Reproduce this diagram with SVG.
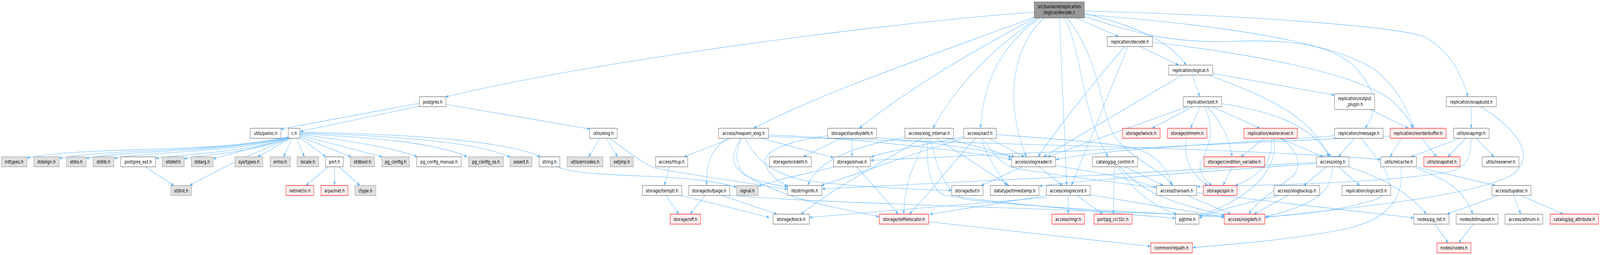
<svg xmlns="http://www.w3.org/2000/svg" width="5467" height="652" viewBox="0 0 5467 652" preserveAspectRatio="none" style="width:100vw;height:100vh;display:block">
<defs>
<marker id="a" markerWidth="10" markerHeight="8" refX="9.5" refY="4" orient="auto" markerUnits="userSpaceOnUse"><path d="M0,0.5 L9.5,4 L0,7.5 z" fill="#63b8ff" stroke="#63b8ff" stroke-width="0.5"/></marker>
</defs>
<style>
.n rect{fill:#ffffff;stroke:#666666;stroke-width:1.2}
.g rect{fill:#e0e0e0;stroke:#999999;stroke-width:1.2}
.r rect{fill:#fff0f0;stroke:#ff0000;stroke-width:1.2}
.root rect{fill:#999999;stroke:#666666;stroke-width:1.2}
text{font-family:"DejaVu Sans","Liberation Sans",sans-serif;font-size:12.7px;fill:#000000;text-anchor:middle}
#edges path{fill:none;stroke:#63b8ff;stroke-width:1.1;marker-end:url(#a)}
</style>
<rect x="0" y="0" width="5467" height="652" fill="#ffffff"/>
<g id="edges">
<path d="M3534,31 C3000,60 2000,160 1522,248"/>
<path d="M3534,44 C3150,150 2800,240 2575,328"/>
<path d="M3537,46 C3300,140 3100,230 2936,328"/>
<path d="M3545,46 C3420,110 3280,200 3188,328"/>
<path d="M3553,46 C3430,110 3360,200 3350,328"/>
<path d="M3567,46 C3460,120 3430,260 3507,401"/>
<path d="M3620,46 L3645,474.3"/>
<path d="M3636,46 C3700,130 3690,280 3786,401"/>
<path d="M3645,46 C3740,130 3760,250 3790,320 C3830,400 3950,420 4008,474.3"/>
<path d="M3677,46 L3822,93.5"/>
<path d="M3705,34 C3900,70 4000,110 4053,166.5"/>
<path d="M3705,42 C3880,85 4000,110 4200,106 C4400,100 4560,110 4640,180 C4720,250 4700,290 4664,328"/>
<path d="M3705,37 C4100,60 4550,100 4700,180 C4780,230 4810,280 4830,328"/>
<path d="M3705,28 C4300,40 4800,70 4870,95 C4950,130 4990,180 5016,247.3"/>
<path d="M3843,119 C3750,200 3620,320 3547,401"/>
<path d="M3854,119 L3661,474.3"/>
<path d="M3895,119 L4027,166.5"/>
<path d="M3938,108 C4300,140 4650,190 4760,260 C4800,290 4820,310 4826,328"/>
<path d="M4075,192 L4099,247.3"/>
<path d="M4040,192 L3566,401"/>
<path d="M4144,188 L4560,243"/>
<path d="M4130,192 C4300,240 4480,290 4540,401"/>
<path d="M4057,273 L3580,401"/>
<path d="M4075,273 L3936,328"/>
<path d="M4101,273 L4068,328"/>
<path d="M4116,273 C4150,330 4135,370 4105,410 C4090,440 4115,460 4141,474.3"/>
<path d="M4126,273 C4170,310 4200,350 4210,401"/>
<path d="M4143,273 L4305,328"/>
<path d="M4174,265 C4350,285 4480,320 4547,401"/>
<path d="M4682,280 L4812,328"/>
<path d="M5027,273 L5027,328"/>
<path d="M5060,273 C5180,330 5260,400 5160,450 C5000,510 4500,540 4322,556"/>
<path d="M1433,264 L959,330"/>
<path d="M1436,271 L1026,336"/>
<path d="M1524,267 L2016,330"/>
<path d="M985,350 C700,395 300,372 92,404"/>
<path d="M985,351 C730,392 400,378 202,405"/>
<path d="M985,351 C760,392 450,382 294,405"/>
<path d="M985,352 C790,392 520,386 389,405"/>
<path d="M986,352 C830,392 640,392 532,405"/>
<path d="M988,353 C860,392 700,394 629,406"/>
<path d="M990,353 L728,406"/>
<path d="M993,353 C840,400 780,420 648,474.3"/>
<path d="M994,353.5 L880,401"/>
<path d="M998,353.5 L969,401"/>
<path d="M1013,353.5 L1040,401"/>
<path d="M1025,352 L1114,401"/>
<path d="M1025,349 L1200,401"/>
<path d="M1025,346 L1306,401"/>
<path d="M1025,344 C1200,360 1350,378 1426,401"/>
<path d="M1025,342 C1300,352 1500,368 1596,401"/>
<path d="M1025,340 C1400,348 1650,368 1744,402"/>
<path d="M1025,338 C1450,343 1750,365 1846,401"/>
<path d="M1122,426.5 L1045,474.3"/>
<path d="M1143,426.5 L1143,474.3"/>
<path d="M1159,426.5 L1230,474.3"/>
<path d="M496,426.5 L594,474.3"/>
<path d="M2050,353.5 L2011,401"/>
<path d="M2071,353.5 L2110,401"/>
<path d="M2083,353.5 C2150,390 2200,420 2240,430 C2400,452 2560,468 2691,484"/>
<path d="M1905,426.5 C1960,445 2100,447 2250,452 C2400,458 2480,470 2517,479"/>
<path d="M2500,353.5 L2337,401"/>
<path d="M2488,354 C2430,380 2410,420 2415,474.3"/>
<path d="M2531,354 C2495,400 2500,425 2540,445 C2680,510 2850,530 3004,554"/>
<path d="M2533,354 C2505,400 2515,440 2570,457 C2620,470 2660,474 2691,478"/>
<path d="M2546,354 C2580,400 2620,440 2750,462 C2950,480 3150,485 3252,487"/>
<path d="M2600,353.5 L2848,403"/>
<path d="M2626,345 C2900,352 3300,385 3456,408"/>
<path d="M2626,349 C3200,365 4300,380 4718,408"/>
<path d="M2871,354 L2745,401"/>
<path d="M2911,354 L2911,401"/>
<path d="M2828,347 C2700,360 2600,385 2615,420 C2625,445 2660,465 2692,476"/>
<path d="M2995,352 C3150,360 3350,380 3456,402"/>
<path d="M3233,353.5 L3467,401"/>
<path d="M3200,354 L3447,474.3"/>
<path d="M3167,354 C3120,420 3090,470 3088,547.5"/>
<path d="M3150,354 C3050,400 2850,480 2737,547.5"/>
<path d="M3092,351 C2950,370 2800,400 2760,474.3"/>
<path d="M3172,354 C3160,420 3180,490 3230,500 C3500,525 3800,545 4016,558"/>
<path d="M3178,354 C3205,440 3235,495 3300,510 C3600,535 4000,545 4183,556"/>
<path d="M3293,350 C3150,370 3050,385 2976,401"/>
<path d="M3295,353 C3150,385 2950,440 2806,474.3"/>
<path d="M3333,354 C3250,420 3170,500 3107,547.5"/>
<path d="M3353,354 C3370,400 3410,440 3440,474.3"/>
<path d="M3378,353.5 L3500,401"/>
<path d="M3358,354 C3400,400 3430,425 3480,432 C3800,470 4400,520 4831,557"/>
<path d="M3404,344 C3600,355 3800,365 3880,380 C3950,395 3990,430 4003,474.3"/>
<path d="M4053,353.5 C4045,400 4060,440 4127,474.3"/>
<path d="M4210,426.5 L4179,474.3"/>
<path d="M4320,353.5 L4240,401"/>
<path d="M4345,354 C4350,420 4300,450 4220,475"/>
<path d="M4352,354 C4370,420 4300,500 4097,552"/>
<path d="M4376,354 C4450,390 4450,440 4400,460 C4330,500 4290,520 4267,547.5"/>
<path d="M4374,353.5 L4521,401"/>
<path d="M4560,347 C4100,372 3800,380 3608,408"/>
<path d="M4628,353.5 L4573,401"/>
<path d="M4651,354 C4720,420 4800,480 4700,510 C4550,545 4400,550 4322,555"/>
<path d="M4750,348 C4000,375 3200,400 2975,410"/>
<path d="M4788,353.5 L4750,401"/>
<path d="M4858,353.5 L4909,401"/>
<path d="M4988,353.5 L4822,401"/>
<path d="M5008,353.5 L4947,401"/>
<path d="M5044,353.5 L5105,401"/>
<path d="M5026,354 C5028,400 5010,430 4950,440 C4700,470 4300,474 4090,477"/>
<path d="M3493,426.5 L3353,474.3"/>
<path d="M3551,426.5 L3630,474.3"/>
<path d="M3607,424 C3750,440 3880,460 3952,480"/>
<path d="M3844,426.5 L3975,474.3"/>
<path d="M3808,426.5 L3804,547.5"/>
<path d="M3819,426.5 C3870,490 3950,530 4020,547.5"/>
<path d="M3826,426.5 C3900,490 4000,520 4185,550"/>
<path d="M4533,426.5 L4454,474.3"/>
<path d="M4573,426.5 L4646,474.3"/>
<path d="M4553,426.5 C4550,480 4520,520 4324,554"/>
<path d="M4609,426.5 C4700,450 4800,480 4874,547.5"/>
<path d="M4498,415 C4000,440 3200,470 2809,483"/>
<path d="M4498,418 C4100,440 3700,460 3551,476"/>
<path d="M4838,426.5 L5110,474.3"/>
<path d="M4838,430 C4930,455 5000,480 5032,547.5"/>
<path d="M4786,426.5 C4800,500 4750,560 4600,585 C4400,615 4200,625 4075,633"/>
<path d="M2288,426.5 L2270,474.3"/>
<path d="M2276,500 L2319,547.5"/>
<path d="M2329,500 L2629,556"/>
<path d="M2409,500 L2358,547.5"/>
<path d="M2468,500 L2655,547.5"/>
<path d="M2493,499 C2800,520 3500,530 4183,553"/>
<path d="M2853,426.5 C2750,445 2650,460 2592,476"/>
<path d="M2927,426.5 L3070,547.5"/>
<path d="M3650,500 L3650,547.5"/>
<path d="M3680,500 L3768,547.5"/>
<path d="M3725,498 C3900,520 4050,540 4183,554"/>
<path d="M3573,500 L3177,548"/>
<path d="M3575,505 L2765,556"/>
<path d="M4058,500 L4206,547.5"/>
<path d="M4401,500 L4285,547.5"/>
<path d="M4370,500 C4250,520 4150,540 4097,558"/>
<path d="M5121,500 L4944,547.5"/>
<path d="M5172,500 L5196,547.5"/>
<path d="M5198,500 L5342,547.5"/>
<path d="M4903,573 L4948,621"/>
<path d="M5034,573 L4984,621"/>
<path d="M3173,567 L3932,630"/>
</g>
<g id="n_root" class="root"><rect x="3534" y="5" width="171" height="41"/><text x="3619.5" y="21">src/backend/replication</text><text x="3619.5" y="36">/logical/decode.c</text></g>
<g id="n_decode_h" class="n"><rect x="3783" y="93.5" width="155" height="25.5"/><text x="3860.5" y="110.8">replication/decode.h</text></g>
<g id="n_logical_h" class="n"><rect x="3993" y="166.5" width="151" height="25.5"/><text x="4068.5" y="183.8">replication/logical.h</text></g>
<g id="n_postgres_h" class="n"><rect x="1433" y="247.3" width="91" height="25.5"/><text x="1478.5" y="264.6">postgres.h</text></g>
<g id="n_slot_h" class="n"><rect x="4043" y="247.3" width="131" height="25.5"/><text x="4108.5" y="264.6">replication/slot.h</text></g>
<g id="n_output_plugin_h" class="n"><rect x="4560" y="240" width="137" height="40"/><text x="4628.5" y="256">replication/output</text><text x="4628.5" y="271">_plugin.h</text></g>
<g id="n_snapbuild_h" class="n"><rect x="4942" y="247.3" width="171" height="25.5"/><text x="5027.5" y="264.6">replication/snapbuild.h</text></g>
<g id="n_palloc_h" class="n"><rect x="855" y="328" width="105" height="25.5"/><text x="907.5" y="345.3">utils/palloc.h</text></g>
<g id="n_c_h" class="n"><rect x="985" y="328" width="40" height="25.5"/><text x="1005" y="345.3">c.h</text></g>
<g id="n_elog_h" class="n"><rect x="2014" y="328" width="95" height="25.5"/><text x="2061.5" y="345.3">utils/elog.h</text></g>
<g id="n_heapam_xlog_h" class="n"><rect x="2455" y="328" width="171" height="25.5"/><text x="2540.5" y="345.3">access/heapam_xlog.h</text></g>
<g id="n_standbydefs_h" class="n"><rect x="2828" y="328" width="167" height="25.5"/><text x="2911.5" y="345.3">storage/standbydefs.h</text></g>
<g id="n_xlog_internal_h" class="n"><rect x="3092" y="328" width="166" height="25.5"/><text x="3175" y="345.3">access/xlog_internal.h</text></g>
<g id="n_xact_h" class="n"><rect x="3293" y="328" width="111" height="25.5"/><text x="3348.5" y="345.3">access/xact.h</text></g>
<g id="n_lwlock_h" class="r"><rect x="3835" y="328" width="129" height="25.5"/><text x="3899.5" y="345.3">storage/lwlock.h</text></g>
<g id="n_shmem_h" class="r"><rect x="3989" y="328" width="135" height="25.5"/><text x="4056.5" y="345.3">storage/shmem.h</text></g>
<g id="n_walreceiver_h" class="r"><rect x="4250" y="328" width="183" height="25.5"/><text x="4341.5" y="345.3">replication/walreceiver.h</text></g>
<g id="n_message_h" class="n"><rect x="4560" y="328" width="166" height="25.5"/><text x="4643" y="345.3">replication/message.h</text></g>
<g id="n_reorderbuffer_h" class="r"><rect x="4750" y="328" width="191" height="25.5"/><text x="4845.5" y="345.3">replication/reorderbuffer.h</text></g>
<g id="n_snapmgr_h" class="n"><rect x="4966" y="328" width="122" height="25.5"/><text x="5027" y="345.3">utils/snapmgr.h</text></g>
<g id="n_inttypes_h" class="g"><rect x="4.5" y="401" width="87.5" height="25.5"/><text x="48.25" y="418.3">inttypes.h</text></g>
<g id="n_stdalign_h" class="g"><rect x="115" y="401" width="87" height="25.5"/><text x="158.5" y="418.3">stdalign.h</text></g>
<g id="n_stdio_h" class="g"><rect x="227" y="401" width="67" height="25.5"/><text x="260.5" y="418.3">stdio.h</text></g>
<g id="n_stdlib_h" class="g"><rect x="318" y="401" width="71" height="25.5"/><text x="353.5" y="418.3">stdlib.h</text></g>
<g id="n_postgres_ext_h" class="n"><rect x="412.5" y="401" width="119.5" height="25.5"/><text x="472.25" y="418.3">postgres_ext.h</text></g>
<g id="n_stddef_h" class="g"><rect x="555" y="401" width="74.5" height="25.5"/><text x="592.25" y="418.3">stddef.h</text></g>
<g id="n_stdarg_h" class="g"><rect x="653.5" y="401" width="74.5" height="25.5"/><text x="690.75" y="418.3">stdarg.h</text></g>
<g id="n_sys_types_h" class="g"><rect x="803" y="401" width="95" height="25.5"/><text x="850.5" y="418.3">sys/types.h</text></g>
<g id="n_errno_h" class="g"><rect x="923" y="401" width="69" height="25.5"/><text x="957.5" y="418.3">errno.h</text></g>
<g id="n_locale_h" class="g"><rect x="1015" y="401" width="74" height="25.5"/><text x="1052" y="418.3">locale.h</text></g>
<g id="n_port_h" class="n"><rect x="1112.5" y="401" width="60.5" height="25.5"/><text x="1142.75" y="418.3">port.h</text></g>
<g id="n_stdbool_h" class="g"><rect x="1197" y="401" width="83" height="25.5"/><text x="1238.5" y="418.3">stdbool.h</text></g>
<g id="n_pg_config_h" class="g"><rect x="1304.5" y="401" width="94.5" height="25.5"/><text x="1351.75" y="418.3">pg_config.h</text></g>
<g id="n_pg_config_manual_h" class="n"><rect x="1424" y="401" width="152" height="25.5"/><text x="1500" y="418.3">pg_config_manual.h</text></g>
<g id="n_pg_config_os_h" class="g"><rect x="1601" y="401" width="119" height="25.5"/><text x="1660.5" y="418.3">pg_config_os.h</text></g>
<g id="n_assert_h" class="g"><rect x="1743" y="401" width="75" height="25.5"/><text x="1780.5" y="418.3">assert.h</text></g>
<g id="n_string_h" class="n"><rect x="1842" y="401" width="71" height="25.5"/><text x="1877.5" y="418.3">string.h</text></g>
<g id="n_errcodes_h" class="g"><rect x="1937.5" y="401" width="122.5" height="25.5"/><text x="1998.75" y="418.3">utils/errcodes.h</text></g>
<g id="n_setjmp_h" class="g"><rect x="2085" y="401" width="79" height="25.5"/><text x="2124.5" y="418.3">setjmp.h</text></g>
<g id="n_htup_h" class="n"><rect x="2240" y="401" width="110" height="25.5"/><text x="2295" y="418.3">access/htup.h</text></g>
<g id="n_lockdefs_h" class="n"><rect x="2629" y="401" width="143" height="25.5"/><text x="2700.5" y="418.3">storage/lockdefs.h</text></g>
<g id="n_sinval_h" class="n"><rect x="2848" y="401" width="126" height="25.5"/><text x="2911" y="418.3">storage/sinval.h</text></g>
<g id="n_xlogreader_h" class="n"><rect x="3456" y="401" width="151" height="25.5"/><text x="3531.5" y="418.3">access/xlogreader.h</text></g>
<g id="n_pg_control_h" class="n"><rect x="3733" y="401" width="154" height="25.5"/><text x="3810" y="418.3">catalog/pg_control.h</text></g>
<g id="n_condition_variable_h" class="r"><rect x="4114" y="401" width="207" height="25.5"/><text x="4217.5" y="418.3">storage/condition_variable.h</text></g>
<g id="n_xlog_h" class="n"><rect x="4498" y="401" width="111" height="25.5"/><text x="4553.5" y="418.3">access/xlog.h</text></g>
<g id="n_relcache_h" class="n"><rect x="4718" y="401" width="122" height="25.5"/><text x="4779" y="418.3">utils/relcache.h</text></g>
<g id="n_snapshot_h" class="r"><rect x="4865" y="401" width="124" height="25.5"/><text x="4927" y="418.3">utils/snapshot.h</text></g>
<g id="n_resowner_h" class="n"><rect x="5064.5" y="401" width="125.5" height="25.5"/><text x="5127.25" y="418.3">utils/resowner.h</text></g>
<g id="n_stdint_h" class="g"><rect x="584" y="474.3" width="70.5" height="25.5"/><text x="619.25" y="491.6">stdint.h</text></g>
<g id="n_netinet_in_h" class="r"><rect x="977" y="474.3" width="95" height="25.5"/><text x="1024.5" y="491.6">netinet/in.h</text></g>
<g id="n_arpa_inet_h" class="r"><rect x="1097" y="474.3" width="92" height="25.5"/><text x="1143" y="491.6">arpa/inet.h</text></g>
<g id="n_ctype_h" class="g"><rect x="1212.5" y="474.3" width="71.5" height="25.5"/><text x="1248.25" y="491.6">ctype.h</text></g>
<g id="n_itemptr_h" class="n"><rect x="2195" y="474.3" width="134.5" height="25.5"/><text x="2262.25" y="491.6">storage/itemptr.h</text></g>
<g id="n_bufpage_h" class="n"><rect x="2353" y="474.3" width="140" height="25.5"/><text x="2423" y="491.6">storage/bufpage.h</text></g>
<g id="n_signal_h" class="g"><rect x="2517" y="474.3" width="73.5" height="25.5"/><text x="2553.75" y="491.6">signal.h</text></g>
<g id="n_stringinfo_h" class="n"><rect x="2691" y="474.3" width="117" height="25.5"/><text x="2749.5" y="491.6">lib/stringinfo.h</text></g>
<g id="n_buf_h" class="n"><rect x="3252" y="474.3" width="107" height="25.5"/><text x="3305.5" y="491.6">storage/buf.h</text></g>
<g id="n_timestamp_h" class="n"><rect x="3384" y="474.3" width="166" height="25.5"/><text x="3467" y="491.6">datatype/timestamp.h</text></g>
<g id="n_xlogrecord_h" class="n"><rect x="3575" y="474.3" width="150" height="25.5"/><text x="3650" y="491.6">access/xlogrecord.h</text></g>
<g id="n_transam_h" class="n"><rect x="3952" y="474.3" width="137" height="25.5"/><text x="4020.5" y="491.6">access/transam.h</text></g>
<g id="n_spin_h" class="r"><rect x="4112" y="474.3" width="115" height="25.5"/><text x="4169.5" y="491.6">storage/spin.h</text></g>
<g id="n_xlogbackup_h" class="n"><rect x="4353" y="474.3" width="156" height="25.5"/><text x="4431" y="491.6">access/xlogbackup.h</text></g>
<g id="n_logicalctl_h" class="n"><rect x="4585" y="474.3" width="167" height="25.5"/><text x="4668.5" y="491.6">replication/logicalctl.h</text></g>
<g id="n_tupdesc_h" class="n"><rect x="5098" y="474.3" width="133" height="25.5"/><text x="5164.5" y="491.6">access/tupdesc.h</text></g>
<g id="n_off_h" class="r"><rect x="2290" y="547.5" width="104" height="25.5"/><text x="2342" y="564.8">storage/off.h</text></g>
<g id="n_block_h" class="n"><rect x="2641.5" y="547.5" width="123.5" height="25.5"/><text x="2703.25" y="564.8">storage/block.h</text></g>
<g id="n_relfilelocator_h" class="r"><rect x="3004.5" y="547.5" width="168.5" height="25.5"/><text x="3088.75" y="564.8">storage/relfilelocator.h</text></g>
<g id="n_rmgr_h" class="r"><rect x="3594" y="547.5" width="112" height="25.5"/><text x="3650" y="564.8">access/rmgr.h</text></g>
<g id="n_pg_crc32c_h" class="r"><rect x="3738" y="547.5" width="130" height="25.5"/><text x="3803" y="564.8">port/pg_crc32c.h</text></g>
<g id="n_pgtime_h" class="n"><rect x="4016.5" y="547.5" width="80" height="25.5"/><text x="4056.5" y="564.8">pgtime.h</text></g>
<g id="n_xlogdefs_h" class="r"><rect x="4183" y="547.5" width="139" height="25.5"/><text x="4252.5" y="564.8">access/xlogdefs.h</text></g>
<g id="n_pg_list_h" class="n"><rect x="4831" y="547.5" width="120" height="25.5"/><text x="4891" y="564.8">nodes/pg_list.h</text></g>
<g id="n_bitmapset_h" class="n"><rect x="4975.5" y="547.5" width="143" height="25.5"/><text x="5047" y="564.8">nodes/bitmapset.h</text></g>
<g id="n_attnum_h" class="n"><rect x="5142.5" y="547.5" width="129" height="25.5"/><text x="5207" y="564.8">access/attnum.h</text></g>
<g id="n_pg_attribute_h" class="r"><rect x="5296.5" y="547.5" width="165.5" height="25.5"/><text x="5379.25" y="564.8">catalog/pg_attribute.h</text></g>
<g id="n_relpath_h" class="r"><rect x="3932" y="621" width="142" height="25.5"/><text x="4003" y="638.3">common/relpath.h</text></g>
<g id="n_nodes_h" class="r"><rect x="4910" y="621" width="116" height="25.5"/><text x="4968" y="638.3">nodes/nodes.h</text></g>
</svg>
